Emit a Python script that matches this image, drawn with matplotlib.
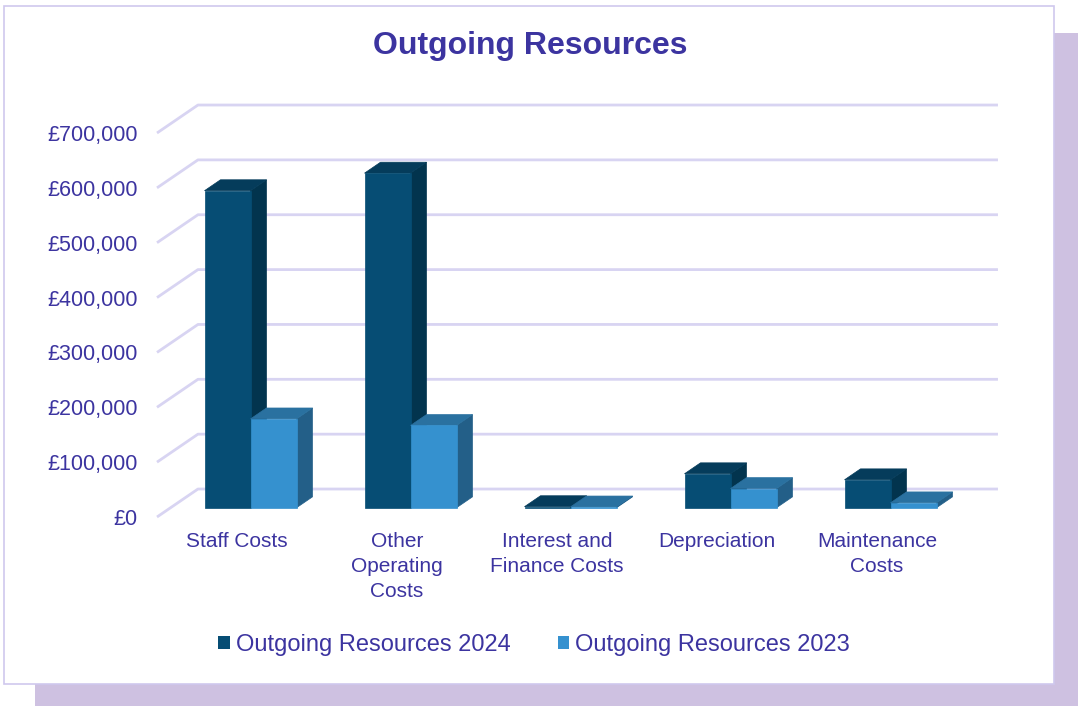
import matplotlib
matplotlib.use("Agg")
import matplotlib.pyplot as plt
from matplotlib.patches import Polygon, Rectangle, Patch
from matplotlib.ticker import FuncFormatter

plt.rcParams['font.family'] = ['Liberation Sans', 'DejaVu Sans']

categories = ["Staff Costs", "Other\nOperating\nCosts", "Interest and\nFinance Costs",
              "Depreciation", "Maintenance\nCosts"]
series_names = ["Outgoing Resources 2024", "Outgoing Resources 2023"]
values_2024 = [578000, 610000, 2000, 62000, 51000]
values_2023 = [162000, 150000, 1500, 35000, 9000]
yticks = list(range(0, 700001, 100000))

text_col = "#3C34A0"
grid_col = "#D8D4F2"
# front, side, top colours per series
bar_cols = [("#064D74", "#02344E", "#053C5B"),
            ("#3591CF", "#235F88", "#2A71A0")]

# fake 3d: depth offset in data units
DX = 0.256
DY = 51000
d0, d1 = 0.33, 0.72
bar_w = 0.2875

fig = plt.figure(figsize=(10.78, 7.09), dpi=100)

# shadow + white panel
fig.patches.append(Rectangle((35 / 1078, 3 / 709), 1043 / 1078, 673 / 709,
                             transform=fig.transFigure, facecolor="#CEC1E1",
                             edgecolor="none", zorder=0))
fig.patches.append(Rectangle((4 / 1078, 25 / 709), 1050 / 1078, 678 / 709,
                             transform=fig.transFigure, facecolor="white",
                             edgecolor="#CFC8EE", lw=1.2, zorder=1))

ax = fig.add_axes([157 / 1078, 192 / 709, 800 / 1078, 384 / 709])
ax.set_zorder(5)
ax.set_xlim(0, len(categories))
ax.set_ylim(0, 700000)
ax.patch.set_alpha(0)
for s in ax.spines.values():
    s.set_visible(False)


def proj(x, v, d):
    return (x + d * DX, v + d * DY)


# back wall gridlines
n = len(categories)
for v in yticks:
    pts = [proj(0, v, 0), proj(0, v, 1), proj(n, v, 1)]
    ax.plot([p[0] for p in pts], [p[1] for p in pts], color=grid_col, lw=2,
            clip_on=False, zorder=1, solid_capstyle="butt")

# bars
for i in range(n):
    for j, vals in enumerate([values_2024, values_2023]):
        val = vals[i]
        x0 = i + 0.5 - bar_w + j * bar_w
        x1 = x0 + bar_w
        front, side, top = bar_cols[j]
        faces = [
            ([proj(x1, 0, d0), proj(x1, 0, d1), proj(x1, val, d1), proj(x1, val, d0)], side),
            ([proj(x0, val, d0), proj(x1, val, d0), proj(x1, val, d1), proj(x0, val, d1)], top),
            ([proj(x0, 0, d0), proj(x1, 0, d0), proj(x1, val, d0), proj(x0, val, d0)], front),
        ]
        for pts, c in faces:
            ax.add_patch(Polygon(pts, closed=True, facecolor=c, edgecolor=c,
                                 lw=0.5, zorder=3 + i * 0.1 + j * 0.01, clip_on=False))

ax.set_yticks(yticks)
ax.yaxis.set_major_formatter(FuncFormatter(lambda v, p: "£{:,.0f}".format(v)))
ax.set_xticks([i + 0.5 for i in range(n)])
ax.set_xticklabels(categories, linespacing=1.38)
ax.tick_params(axis="y", length=0, pad=14, labelsize=15.5, labelcolor=text_col)
ax.tick_params(axis="x", length=0, pad=11, labelsize=15, labelcolor=text_col)

fig.text(530 / 1078, 1 - 46 / 709, "Outgoing Resources", ha="center", va="center",
         fontsize=23, fontweight="bold", color=text_col, zorder=5)

handles = [Patch(facecolor=bar_cols[k][0], edgecolor="none") for k in range(2)]
leg = fig.legend(handles, series_names, loc="center", ncol=2, frameon=False,
                 bbox_to_anchor=(534 / 1078, 1 - 645 / 709), fontsize=17,
                 handlelength=0.5, handleheight=0.5, handletextpad=0.25,
                 columnspacing=2.0, borderpad=0)
leg.set_zorder(5)
for t in leg.get_texts():
    t.set_color(text_col)

fig.savefig("out.png", dpi=100)
